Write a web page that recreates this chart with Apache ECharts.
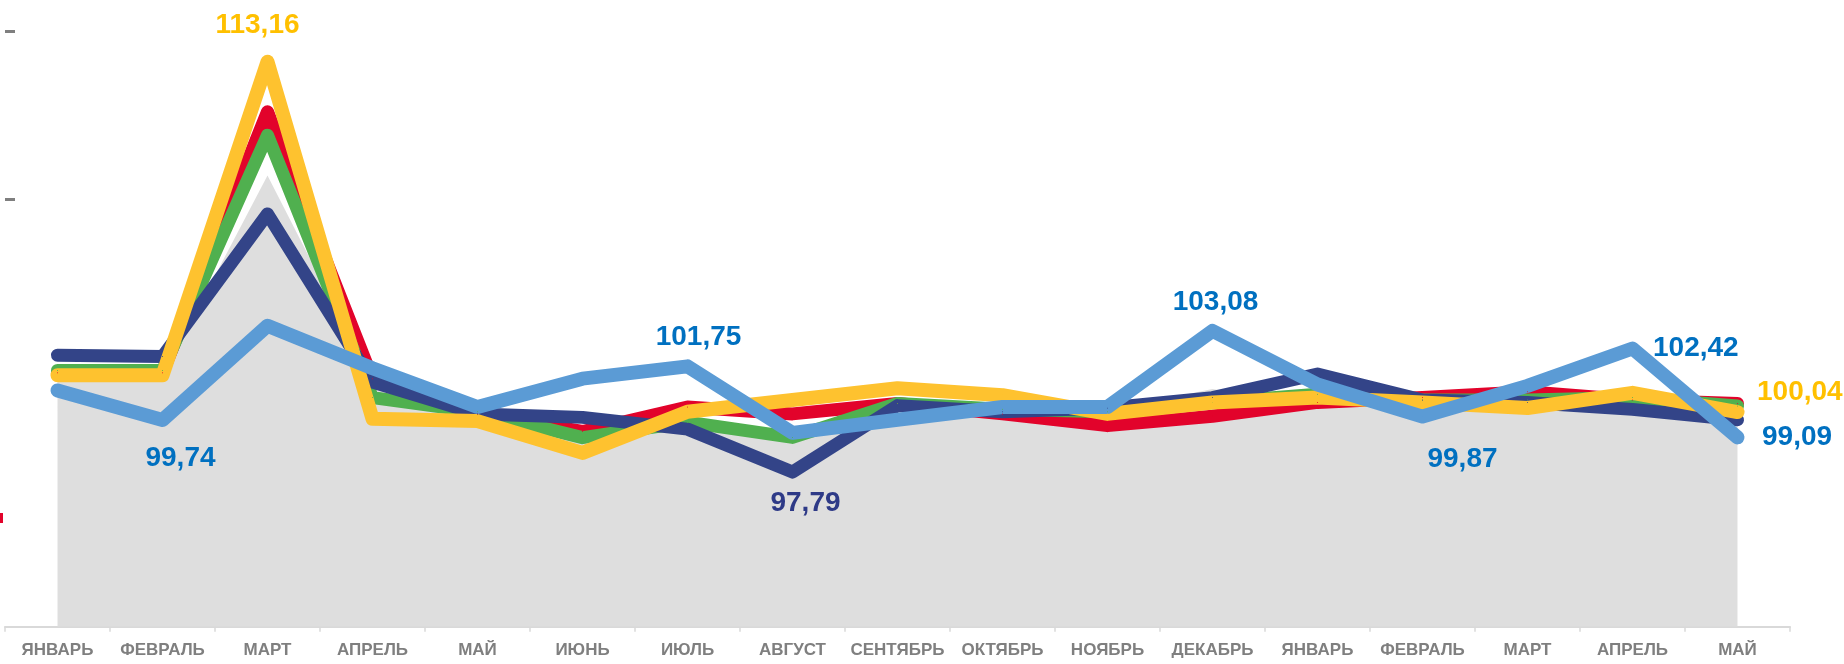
<!DOCTYPE html>
<html lang="ru">
<head>
  <meta charset="UTF-8">
  <title>Индексы по месяцам</title>
  <script src="https://cdn.jsdelivr.net/npm/echarts@6/dist/echarts.min.js"></script>
  <style>
    html, body { margin: 0; padding: 0; background: #fff; }
    #chart { width: 1844px; height: 664px; }
  </style>
</head>
<body>
  <div id="chart"></div>
  <script>
    // категории (два года, январь..май следующего)
    const months = ['ЯНВАРЬ', 'ФЕВРАЛЬ', 'МАРТ', 'АПРЕЛЬ', 'МАЙ', 'ИЮНЬ', 'ИЮЛЬ', 'АВГУСТ', 'СЕНТЯБРЬ',
      'ОКТЯБРЬ', 'НОЯБРЬ', 'ДЕКАБРЬ', 'ЯНВАРЬ', 'ФЕВРАЛЬ', 'МАРТ', 'АПРЕЛЬ', 'МАЙ'];

    // значения
    const areaGray  = [101.4, 101.4, 108.9, 101.2, 100.0, 99.5, 99.6, 99.3, 100.3, 100.1, 100.1, 100.9, 100.3, 100.2, 100.25, 100.1, 99.7];
    const redLine   = [101.51, 101.51, 111.29, 101.29, 99.97, 99.31, 100.23, 99.97, 100.36, 99.97, 99.53, 99.88, 100.4, 100.58, 100.8, 100.49, 100.36];
    const greenLine = [101.6, 101.6, 110.41, 100.58, 100.05, 99.08, 99.66, 99.09, 100.36, 100.14, 100.05, 100.4, 100.71, 100.49, 100.49, 100.58, 100.27];
    const navyLine  = [102.17, 102.12, 107.46, 101.16, 99.97, 99.84, 99.4, 97.79, 100.28, 100.05, 100.19, 100.58, 101.46, 100.49, 100.4, 100.14, 99.75];
    const yellowLine = [101.42, 101.42, 113.16, 99.79, 99.7, 98.51, 100.05, 100.49, 100.93, 100.67, 99.97, 100.4, 100.58, 100.4, 100.19, 100.76, 100.04];
    const blueLine  = [100.85, 99.74, 103.27, 101.68, 100.23, 101.29, 101.75, 99.26, 99.75, 100.23, 100.23, 103.08, 101.07, 99.87, 101.02, 102.42, 99.09];

    // какие точки подписаны и как (индекс -> положение подписи, сдвиг dx/dy)
    const yellowLabels = {
      2: { position: 'top', distance: 22, dx: -10, dy: 0 },
      16: { position: 'right', distance: 19, dx: 0, dy: -20 }
    };
    const navyLabels = {
      7: { position: 'bottom', distance: 17, dx: 13, dy: 0 }
    };
    const blueLabels = {
      1: { position: 'bottom', distance: 24, dx: 18, dy: 0 },
      6: { position: 'top', distance: 15, dx: 11, dy: 0 },
      11: { position: 'top', distance: 14, dx: 3, dy: 0 },
      13: { position: 'bottom', distance: 28, dx: 40, dy: 0 },
      15: { position: 'right', distance: 20, dx: 0, dy: 0 },
      16: { position: 'right', distance: 24, dx: 0, dy: 0 }
    };

    const fmt = v => v.toFixed(2).replace('.', ',');

    function lineSeries(name, values, color, width, labelColor, labels) {
      labels = labels || {};
      return {
        name: name,
        type: 'line',
        // маленький символ нужен, иначе подписи не рисуются
        symbol: 'circle',
        symbolSize: 1,
        showSymbol: true,
        data: values.map((v, i) => {
          const c = labels[i];
          if (!c) return v;
          return {
            value: v,
            label: {
              show: true,
              position: c.position,
              distance: c.distance,
              formatter: p => fmt(p.value),
              color: labelColor,
              fontFamily: 'Liberation Sans, Arial, sans-serif',
              fontWeight: 'bold',
              fontSize: 28
            }
          };
        }),
        lineStyle: { color: color, width: width, cap: 'round', join: 'round' },
        itemStyle: { color: color },
        labelLayout: p => {
          const c = labels[p.dataIndex];
          return c ? { dx: c.dx, dy: c.dy, hideOverlap: false } : {};
        },
        emphasis: { disabled: true },
        animation: false
      };
    }

    const chart = echarts.init(document.getElementById('chart'));

    const option = {
      animation: false,
      grid: {
        left: 5,
        right: 54,
        top: 12.6,
        bottom: 37.3,
        containLabel: false,
        outerBoundsMode: 'none'
      },
      xAxis: {
        type: 'category',
        data: months,
        boundaryGap: true,
        axisLine: { lineStyle: { color: '#d9d9d9', width: 2 } },
        axisTick: { show: true, length: 5, lineStyle: { color: '#d9d9d9', width: 1.5 } },
        axisLabel: {
          interval: 0,
          margin: 15,
          color: '#7f7f7f',
          fontFamily: 'Liberation Sans, Arial, sans-serif',
          fontWeight: 'bold',
          fontSize: 17
        }
      },
      yAxis: [
        {
          type: 'value',
          min: 92,
          max: 115,
          splitLine: { show: false },
          axisLine: { show: false },
          axisLabel: { show: false },
          axisTick: {
            show: true,
            inside: true,
            length: 10,
            customValues: [108, 114.3],
            lineStyle: { color: '#7f7f7f', width: 3 }
          }
        },
        {
          type: 'value',
          position: 'left',
          offset: 5,
          min: 92,
          max: 115,
          splitLine: { show: false },
          axisLine: { show: false },
          axisLabel: { show: false },
          axisTick: {
            show: true,
            inside: true,
            length: 3,
            customValues: [96.07],
            lineStyle: { color: '#e2032b', width: 10 }
          }
        }
      ],
      series: [
        {
          name: 'фон',
          type: 'line',
          symbol: 'none',
          data: areaGray,
          lineStyle: { width: 0 },
          areaStyle: { color: '#dedede', opacity: 1 },
          emphasis: { disabled: true }
        },
        lineSeries('red', redLine, '#e2032b', 13),
        lineSeries('green', greenLine, '#50b04f', 13),
        lineSeries('navy', navyLine, '#334488', 13, '#2e3a87', navyLabels),
        lineSeries('yellow', yellowLine, '#fec22f', 14, '#ffc000', yellowLabels),
        lineSeries('blue', blueLine, '#5b9bd5', 14, '#0070c0', blueLabels)
      ]
    };

    chart.setOption(option);
  </script>
</body>
</html>
